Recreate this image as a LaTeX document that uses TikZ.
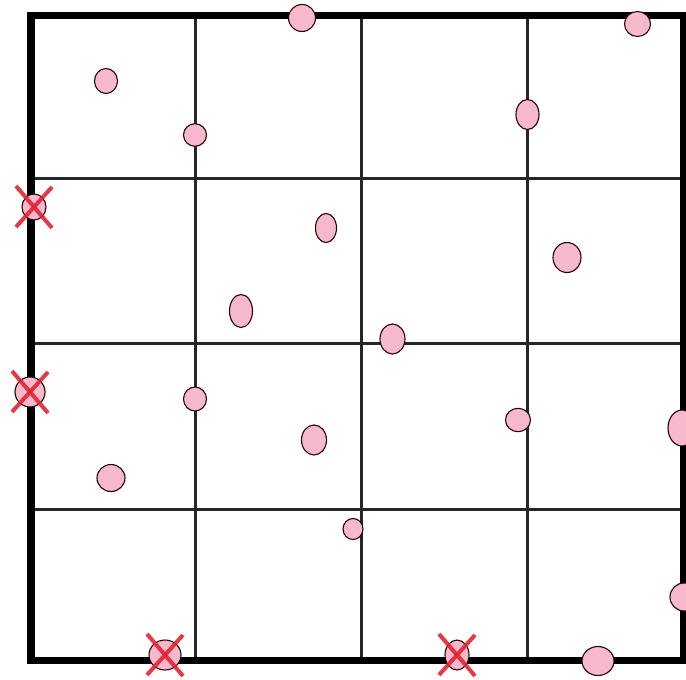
\documentclass[tikz,border=0pt]{standalone}
\definecolor{dotpink}{RGB}{246,184,204}
\definecolor{xred}{RGB}{226,36,52}
\tikzset{
  gridline/.style={line width=3pt, black!85},
  frameline/.style={line width=7.5pt, black, line cap=rect},
  dot/.style={fill=dotpink, draw=black!85!red, line width=1.1pt},
  xmark/.style={draw=xred, line width=4pt, opacity=0.9},
}
\newcommand{\crossat}[1]{%
  \draw[xmark] (#1) ++(-18,-21) -- ++(36,42);
  \draw[xmark] (#1) ++(18,-20) -- ++(-36,40);}
\begin{document}
\begin{tikzpicture}[x=1pt,y=-1pt]
\useasboundingbox (0,0) rectangle (686,680);
\fill[white] (0,0) rectangle (686,680);
% grid
\foreach \gx in {195,361,527.5} \draw[gridline] (\gx,15) -- (\gx,660.5);
\foreach \gy in {178,343.5,509} \draw[gridline] (31,\gy) -- (684,\gy);
% frame
\draw[frameline] (31,15.5) rectangle (684,660.5);
% points
\coordinate (c1) at (34,207);
\coordinate (c2) at (30,392);
\coordinate (c3) at (165,655);
\coordinate (c4) at (457,655);
\draw[dot] (106,81) ellipse [x radius=11.5, y radius=12.5];
\draw[dot] (195,135) ellipse [x radius=11.5, y radius=11.3];
\draw[dot] (302,18) ellipse [x radius=13.5, y radius=13.5];
\draw[dot] (637.5,24) ellipse [x radius=13, y radius=12.5];
\draw[dot] (527.5,114.5) ellipse [x radius=11.5, y radius=15];
\draw[dot] (326,228) ellipse [x radius=10.5, y radius=14.5];
\draw[dot] (567,257.5) ellipse [x radius=14, y radius=15];
\draw[dot] (241,311) ellipse [x radius=11.5, y radius=16.5];
\draw[dot] (392.5,339) ellipse [x radius=12.5, y radius=15];
\draw[dot] (195,399) ellipse [x radius=11.5, y radius=12];
\draw[dot] (314,440) ellipse [x radius=12.5, y radius=15];
\draw[dot] (111,478) ellipse [x radius=14, y radius=13.5];
\draw[dot] (518,420) ellipse [x radius=12.5, y radius=11.7];
\draw[dot] (682,428) ellipse [x radius=14, y radius=18];
\draw[dot] (353,529) ellipse [x radius=10, y radius=10.5];
\draw[dot] (684,597) ellipse [x radius=14, y radius=14];
\draw[dot] (598,661) ellipse [x radius=16, y radius=14.5];
% crossed points
\draw[dot] (c1) ellipse [x radius=12, y radius=13];
\draw[dot] (c2) ellipse [x radius=15, y radius=15];
\draw[dot] (c3) ellipse [x radius=16, y radius=15];
\draw[dot] (c4) ellipse [x radius=12, y radius=15];
\crossat{c1}
\crossat{c2}
\crossat{c3}
\crossat{c4}
\end{tikzpicture}
\end{document}
